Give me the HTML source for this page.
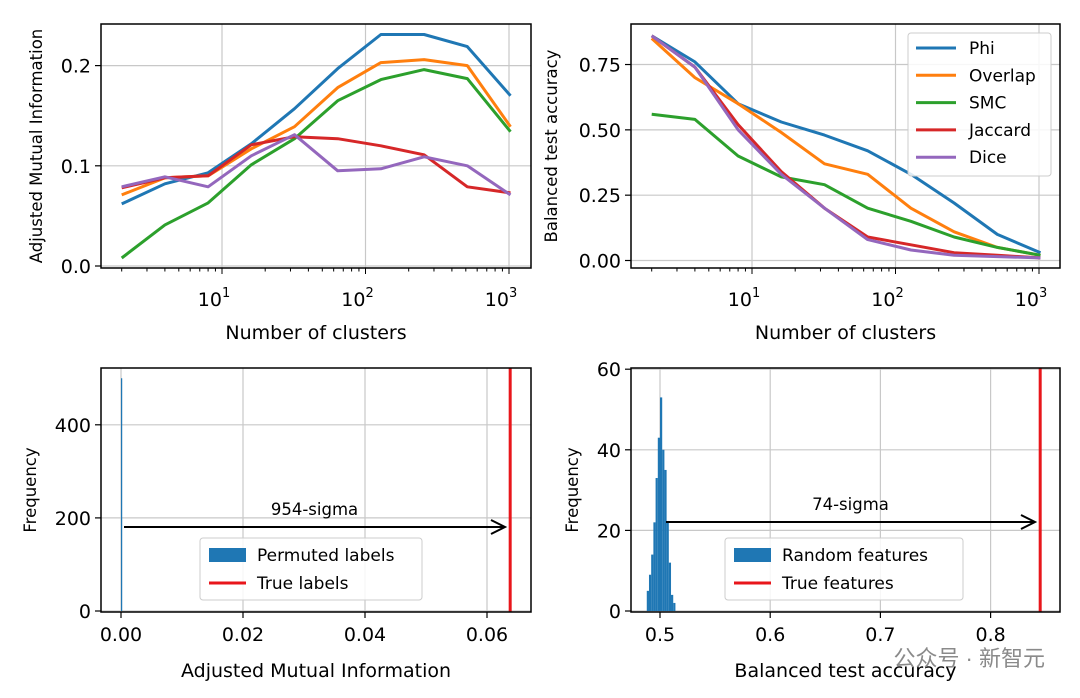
<!DOCTYPE html>
<html><head><meta charset="utf-8">
<style>
body{margin:0;background:#fff;}
svg{display:block;font-family:"DejaVu Sans","Liberation Sans",sans-serif;}
</style></head>
<body>
<svg id="fig" width="1080" height="698" viewBox="0 0 1080 698"></svg>
<script>
const clusters=[2,4,8,16,32,64,128,256,512,1024];
const names=["Phi","Overlap","SMC","Jaccard","Dice"];
const colors=["#1f77b4","#ff7f0e","#2ca02c","#d62728","#9467bd"];
const amiPhi=[0.062,0.082,0.093,0.122,0.157,0.197,0.231,0.231,0.219,0.170];
const amiOverlap=[0.071,0.088,0.090,0.117,0.139,0.178,0.203,0.206,0.200,0.139];
const amiSMC=[0.008,0.041,0.063,0.101,0.127,0.165,0.186,0.196,0.187,0.134];
const amiJaccard=[0.078,0.088,0.090,0.121,0.129,0.127,0.120,0.111,0.079,0.073];
const amiDice=[0.079,0.089,0.079,0.110,0.131,0.095,0.097,0.109,0.100,0.071];
const accPhi=[0.86,0.76,0.60,0.53,0.48,0.42,0.33,0.22,0.10,0.03];
const accOverlap=[0.85,0.70,0.60,0.49,0.37,0.33,0.20,0.11,0.05,0.02];
const accSMC=[0.56,0.54,0.40,0.32,0.29,0.20,0.15,0.09,0.05,0.02];
const accJaccard=[0.86,0.74,0.52,0.34,0.20,0.09,0.06,0.03,0.02,0.01];
const accDice=[0.86,0.74,0.50,0.33,0.20,0.08,0.04,0.02,0.015,0.01];
const amiTicks=[0.0,0.1,0.2];
const accTicks=[0.00,0.25,0.50,0.75];
const permBins=[0.0];
const permCounts=[500];
const trueAMI=0.0638;
const amiSigma="954-sigma";
const randBins=[0.488,0.490,0.492,0.494,0.496,0.498,0.500,0.502,0.504,0.506,0.508,0.510,0.512];
const randCounts=[5,9,14,22,33,43,53,40,35,22,12,4,2];
const trueAcc=0.845;
const accSigma="74-sigma";
const histAmiTicks=[0.00,0.02,0.04,0.06];
const histAmiY=[0,200,400];
const histAccTicks=[0.5,0.6,0.7,0.8];
const histAccY=[0,20,40,60];

const NS="http://www.w3.org/2000/svg";
const svg=document.getElementById('fig');
const TF=19;
function el(tag,attrs,parent,txt){const e=document.createElementNS(NS,tag);for(const k in attrs)e.setAttribute(k,attrs[k]);if(txt!==undefined)e.textContent=txt;(parent||svg).appendChild(e);return e;}
function panel(name){const g=el('g',{});return g;}
function frame(g,L,T,R,B){const r=el('rect',{x:L,y:T,width:R-L,height:B-T,fill:'none',stroke:'#000','stroke-width':1.5},g);}
function grid(g,x1,y1,x2,y2){const l=el('line',{x1,y1,x2,y2,stroke:'#c8c8c8','stroke-width':1.2},g);}
function txt(g,x,y,s,opts){return el('text',Object.assign({x,y,'font-size':TF,fill:'#000'},opts||{}),g,s);}

function logX(L10,dec){return v=>L10+(Math.log10(v)-1)*dec;}
function linePanel(name,L,T,R,B,xs,yS,ticks,fmt,series,ylabel,ylx){
  const g=panel(name);
  [10,100,1000].forEach(v=>grid(g,xs(v),T,xs(v),B));
  ticks.forEach(v=>grid(g,L,yS(v),R,yS(v)));
  series.forEach((s,i)=>{
    const p=el('polyline',{points:clusters.map((c,j)=>xs(c).toFixed(1)+','+yS(s[j]).toFixed(1)).join(' '),fill:'none',stroke:colors[i],'stroke-width':3,'stroke-linejoin':'round'},g);
    
    
  });
  frame(g,L,T,R,B);
  ticks.forEach(v=>{el('line',{x1:L-6,y1:yS(v),x2:L,y2:yS(v),stroke:'#000','stroke-width':1.2},g);
    const t=txt(g,L-10,yS(v)+7,fmt(v),{'text-anchor':'end'});});
  for(let d=0;d<4;d++)for(let m=1;m<10;m++){const v=m*Math.pow(10,d);if(v<2||v>1024)continue;const x=xs(v);
    el('line',{x1:x,y1:B,x2:x,y2:B+(m==1?6:3.5),stroke:'#000','stroke-width':1},g);}
  [[10,'1'],[100,'2'],[1000,'3']].forEach(([v,e])=>{const t=el('text',{x:xs(v)-8,y:B+38,'font-size':TF,'text-anchor':'middle'},g);
    
    t.appendChild(document.createTextNode('10'));el('tspan',{dy:-9,'font-size':13},t,e);});
  const xl=txt(g,(L+R)/2,B+71,'Number of clusters',{'text-anchor':'middle','font-size':19});
  
  const yl=txt(g,0,0,ylabel,{'text-anchor':'middle','font-size':16.5,transform:`translate(${ylx},${(T+B)/2}) rotate(-90)`});
  
  return g;
}
linePanel('ami-panel',101,24,531,268,logX(222,143.5),v=>266-v*1002,amiTicks,v=>v.toFixed(1),
  [amiPhi,amiOverlap,amiSMC,amiJaccard,amiDice],'Adjusted Mutual Information',42);
const g2=linePanel('accuracy-panel',631,24,1060,268,logX(752,143.5),v=>260.5-v*261.3,accTicks,v=>v.toFixed(2),
  [accPhi,accOverlap,accSMC,accJaccard,accDice],'Balanced test accuracy',557);
const lg=el('g',{},g2);
el('rect',{x:908,y:33,width:143,height:143,rx:3,fill:'#fff','fill-opacity':0.85,stroke:'#ccc'},lg);
names.forEach((n,i)=>{const y=48+i*27.3;
  const e=el('g',{},lg);
  el('line',{x1:916,y1:y,x2:956,y2:y,stroke:colors[i],'stroke-width':3},e);
  txt(e,969,y+6,n,{'font-size':17});});

function histPanel(name,L,T,R,B,xS,yS,xt,xfmt,yt,bins,counts,bw,trueV,xlabel,ylx){
  const g=panel(name);
  xt.forEach(v=>grid(g,xS(v),T,xS(v),B));
  yt.forEach(v=>grid(g,L,yS(v),R,yS(v)));
  bins.forEach((b,i)=>{const x=xS(b),w=Math.max(1.2,xS(b+bw)-x);
    const r=el('rect',{x,y:yS(counts[i]),width:w,height:yS(0)-yS(counts[i]),fill:'#1f77b4'},g);
    });
  const tl=el('line',{x1:xS(trueV),y1:T,x2:xS(trueV),y2:B,stroke:'#e8161b','stroke-width':3},g);
  
  frame(g,L,T,R,B);
  yt.forEach(v=>{el('line',{x1:L-6,y1:yS(v),x2:L,y2:yS(v),stroke:'#000','stroke-width':1.2},g);
    const t=txt(g,L-10,yS(v)+7,String(v),{'text-anchor':'end'});});
  xt.forEach(v=>{el('line',{x1:xS(v),y1:B,x2:xS(v),y2:B+6,stroke:'#000','stroke-width':1.2},g);
    const t=txt(g,xS(v),B+29,xfmt(v),{'text-anchor':'middle'});});
  const xl=txt(g,(L+R)/2,B+65,xlabel,{'text-anchor':'middle','font-size':19});
  const yl=txt(g,0,0,'Frequency',{'text-anchor':'middle','font-size':16.5,transform:`translate(${ylx},${(T+B)/2}) rotate(-90)`});
  
  return g;
}
const hL=histPanel('ami-histogram',101,368,531,612,v=>121+v*6100,v=>611-v*0.4655,histAmiTicks,v=>v.toFixed(2),histAmiY,
  permBins,permCounts,0.0002,trueAMI,'Adjusted Mutual Information',36);
const hR=histPanel('accuracy-histogram',631,368,1060,612,v=>660+(v-0.5)*1102,v=>611-v*4.03,histAccTicks,v=>v.toFixed(1),histAccY,
  randBins,randCounts,0.002,trueAcc,'Balanced test accuracy',578);
function arrow(g,x1,x2,y,label,name){const a=el('g',{},g);
  el('line',{x1,y1:y,x2:x2-2,y2:y,stroke:'#000','stroke-width':2},a);
  el('path',{d:`M${x2-14},${y-7} L${x2},${y} L${x2-14},${y+7}`,fill:'none',stroke:'#000','stroke-width':2},a);
  txt(a,(x1+x2)/2,y-12,label,{'text-anchor':'middle','font-size':16.5});}
arrow(hL,124,505,527,amiSigma,'sigma-arrow');
arrow(hR,666,1035,522,accSigma,'sigma-arrow');
function hlegend(g,x,y,w,a,b){const lg=el('g',{},g);
  el('rect',{x,y,width:w,height:62,rx:3,fill:'#fff','fill-opacity':0.85,stroke:'#ccc'},lg);
  const e1=el('g',{},lg);
  el('rect',{x:x+9,y:y+10,width:37,height:14,fill:'#1f77b4'},e1);txt(e1,x+57,y+23,a,{'font-size':17});
  const e2=el('g',{},lg);
  el('line',{x1:x+9,y1:y+45,x2:x+46,y2:y+45,stroke:'#e8161b','stroke-width':3},e2);txt(e2,x+57,y+51,b,{'font-size':17});}
hlegend(hL,200,538,222,'Permuted labels','True labels');
hlegend(hR,725,538,238,'Random features','True features');
const wm=txt(svg,1045,666,'公众号 · 新智元',{'text-anchor':'end','font-size':22,fill:'#8a8a8a','font-family':'"Liberation Sans","Noto Sans CJK SC",sans-serif'});

</script>
</body></html>
